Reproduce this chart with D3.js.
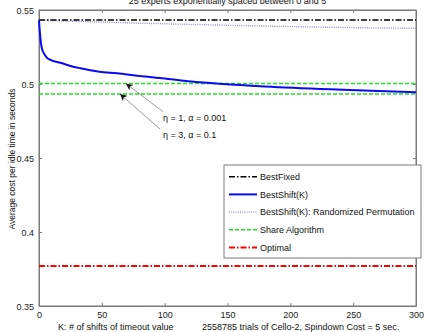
<!DOCTYPE html>
<html>
<head>
<meta charset="utf-8">
<script src="https://cdn.jsdelivr.net/npm/d3@7"></script>
<style>
  html, body { margin: 0; padding: 0; background: #fff; }
  svg { display: block; font-family: "Liberation Sans", Arial, sans-serif; }
</style>
</head>
<body>
<svg id="chart" width="425" height="332"></svg>
<script>
// Average cost per idle time vs. number of timeout shifts K
const titleText = "25 experts exponentially spaced between 0 and 5";
const xLabel = "K: # of shifts of timeout value";
const xNote = "2558785 trials of Cello-2, Spindown Cost = 5 sec.";
const yLabel = "Average cost per idle time in seconds";

const xTicks = [0, 50, 100, 150, 200, 250, 300];
const yTicks = [0.35, 0.4, 0.45, 0.5, 0.55];

const bestFixed = 0.5432;
const optimal = 0.3770;
const shareEta1 = 0.5003;
const shareEta3 = 0.4932;

const shiftK = [0, 1, 2, 4, 6, 10, 17, 25, 33, 48, 62, 80, 100, 115, 146, 180, 232, 270, 300];
const bestShift = [0.5430, 0.5320, 0.5252, 0.5205, 0.5180, 0.5160, 0.5144, 0.5122, 0.5106, 0.5083,
                   0.5072, 0.5054, 0.5037, 0.5022, 0.5000, 0.4983, 0.4964, 0.4953, 0.4944];

const permK = [0, 50, 100, 150, 200, 250, 300];
const bestShiftPerm = [0.5431, 0.5418, 0.5407, 0.5397, 0.5388, 0.5381, 0.5376];

const legendNames = ["BestFixed", "BestShift(K)", "BestShift(K): Randomized Permutation", "Share Algorithm", "Optimal"];

const notes = [
  { text: "\u03b7 = 1, \u03b1 = 0.001", tail: [98.7, 0.4813], head: [69.2, 0.5003] },
  { text: "\u03b7 = 3, \u03b1 = 0.1", tail: [96.3, 0.4696], head: [64.5, 0.4932] }
];

const styles = {
  fixed: { stroke: "#000", width: 1.4, dash: "6,2,1.5,2" },
  shift: { stroke: "#0a0af0", width: 2, dash: null },
  perm: { stroke: "#8f8fd8", width: 1.4, dash: "1,1.2" },
  share: { stroke: "#22e022", width: 1.6, dash: "4,2" },
  opt: { stroke: "#ff0000", width: 2, dash: "6,2,1.5,2" }
};

const svg = d3.select("#chart");
const m = { left: 39, right: 416, top: 10, bottom: 306 };
const x = d3.scaleLinear().domain([0, 300]).range([m.left, m.right]);
const y = d3.scaleLinear().domain([0.35, 0.55]).range([m.bottom, m.top]);

const axisColor = "#7a7a7a";
const tickFont = 9;

// plot frame
svg.append("rect")
  .attr("x", m.left).attr("y", m.top)
  .attr("width", m.right - m.left).attr("height", m.bottom - m.top)
  .attr("fill", "#fff").attr("stroke", axisColor).attr("stroke-width", 1);

// axes with inward ticks
const gx = svg.append("g").attr("transform", `translate(0,${m.bottom})`)
  .call(d3.axisBottom(x).tickValues(xTicks).tickSizeInner(-3).tickSizeOuter(0).tickPadding(6));
const gxTop = svg.append("g").attr("transform", `translate(0,${m.top})`)
  .call(d3.axisTop(x).tickValues(xTicks).tickSizeInner(-3).tickSizeOuter(0).tickFormat(""));
const gy = svg.append("g").attr("transform", `translate(${m.left},0)`)
  .call(d3.axisLeft(y).tickValues(yTicks).tickSizeInner(-3).tickSizeOuter(0).tickPadding(5).tickFormat(d3.format("")));
const gyRight = svg.append("g").attr("transform", `translate(${m.right},0)`)
  .call(d3.axisRight(y).tickValues(yTicks).tickSizeInner(-3).tickSizeOuter(0).tickFormat(""));

[gx, gxTop, gy, gyRight].forEach(g => {
  g.select(".domain").attr("stroke", axisColor);
  g.selectAll(".tick line").attr("stroke", axisColor);
  g.selectAll(".tick text").attr("fill", "#222").attr("font-size", tickFont)
    .attr("font-family", "Liberation Sans, Arial, sans-serif");
});
gy.selectAll(".tick text").attr("dy", "0.35em");

function styled(sel, s) {
  sel.attr("fill", "none").attr("stroke", s.stroke).attr("stroke-width", s.width);
  if (s.dash) sel.attr("stroke-dasharray", s.dash);
  return sel;
}

const plot = svg.append("g");
function hline(v, s) {
  styled(plot.append("line")
    .attr("x1", x(0)).attr("x2", x(300)).attr("y1", y(v)).attr("y2", y(v)), s);
}

hline(shareEta1, styles.share);
hline(shareEta3, styles.share);
hline(optimal, styles.opt);

const line = d3.line().curve(d3.curveMonotoneX);
styled(plot.append("path")
  .attr("d", line(permK.map((k, i) => [x(k), y(bestShiftPerm[i])]))), styles.perm);
hline(bestFixed, styles.fixed);
styled(plot.append("path")
  .attr("d", line(shiftK.map((k, i) => [x(k), y(bestShift[i])]))), styles.shift);

// annotation arrows
svg.append("defs").append("marker")
  .attr("id", "arrowhead").attr("viewBox", "0 0 10 10")
  .attr("refX", 10).attr("refY", 5)
  .attr("markerWidth", 7).attr("markerHeight", 7)
  .attr("markerUnits", "userSpaceOnUse")
  .attr("orient", "auto")
  .append("path").attr("d", "M0,0 L10,5 L0,10 L3,5 Z").attr("fill", "#111");

notes.forEach((n, i) => {
  svg.append("line")
    .attr("x1", x(n.tail[0])).attr("y1", y(n.tail[1]))
    .attr("x2", x(n.head[0])).attr("y2", y(n.head[1]))
    .attr("stroke", "#555").attr("stroke-width", 0.6)
    .attr("marker-end", "url(#arrowhead)");
  svg.append("text")
    .attr("x", 163).attr("y", i === 0 ? 120.5 : 137.5)
    .attr("font-size", 9).attr("fill", "#111")
    .text(n.text);
});

// legend
const lg = svg.append("g");
lg.append("rect").attr("x", 224).attr("y", 165).attr("width", 197).attr("height", 93)
  .attr("fill", "#fff").attr("stroke", axisColor).attr("stroke-width", 1);
const legendStyles = [styles.fixed, styles.shift, styles.perm, styles.share, styles.opt];
legendNames.forEach((name, i) => {
  const yy = 176.7 + i * 17.7;
  styled(lg.append("line").attr("x1", 229).attr("x2", 257).attr("y1", yy).attr("y2", yy), legendStyles[i]);
  lg.append("text").attr("x", 260).attr("y", yy).attr("dy", "0.35em")
    .attr("font-size", 9).attr("fill", "#111").text(name);
});

// labels
svg.append("text").attr("x", (m.left + m.right) / 2).attr("y", 3.5)
  .attr("text-anchor", "middle").attr("font-size", 9).attr("fill", "#111").text(titleText);
svg.append("text").attr("x", 58).attr("y", 330)
  .attr("font-size", 9).attr("fill", "#111").text(xLabel);
svg.append("text").attr("x", 202).attr("y", 330)
  .attr("font-size", 9).attr("fill", "#111").text(xNote);
svg.append("text")
  .attr("transform", `translate(15,${(m.top + m.bottom) / 2 + 1}) rotate(-90)`)
  .attr("text-anchor", "middle").attr("font-size", 8.5).attr("fill", "#111").text(yLabel);
</script>
</body>
</html>
